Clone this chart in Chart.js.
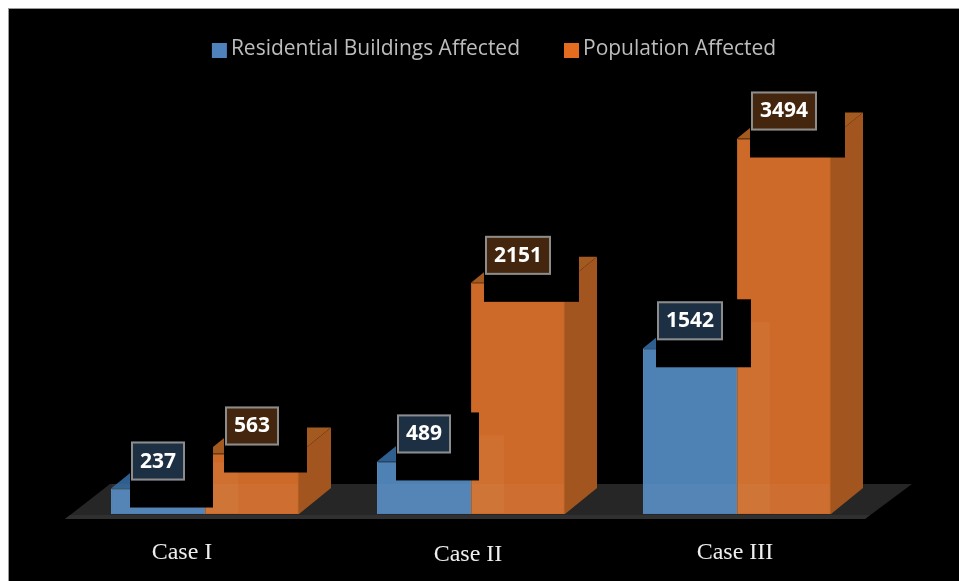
<!DOCTYPE html>
<html>
<head>
<meta charset="utf-8">
<title>Cases</title>
<script src="https://cdn.jsdelivr.net/npm/chart.js@4"></script>
<style>
  html, body { margin: 0; padding: 0; background: #fff; }
  canvas { display: block; }
</style>
</head>
<body>
<canvas id="graph" width="959" height="581"></canvas>
<script>
var categories = ['Case I', 'Case II', 'Case III'];
var buildings = [237, 489, 1542];
var population = [563, 2151, 3494];

// where the category names sit, relative to the group centre (they are hand placed in the original)
var caseOffsetX = [-23, -3, -2];
var caseBaseline = [559, 561, 559];

var depthX = 32;
var depthY = 26;
var labelFont = 'bold 21px "Open Sans"';

var faces = [
  { side: '#3f6c97', top: '#2f5f8f', box: '#1d2f42', front: '#4e81b4' },
  { side: '#a2551f', top: '#a35a20', box: '#44260f', front: '#cd6a2a' }
];

function poly(ctx, pts, color) {
  ctx.beginPath();
  ctx.moveTo(pts[0][0], pts[0][1]);
  for (var i = 1; i < pts.length; i++) ctx.lineTo(pts[i][0], pts[i][1]);
  ctx.closePath();
  ctx.fillStyle = color;
  ctx.fill();
}

const fakeDepth = {
  id: 'fakeDepth',
  afterLayout: function (chart) {
    // legend sits right of the plot centre, and higher than its padding allows
    var lg = chart.legend;
    lg.left += 23; lg.right += 23;
    lg.top -= 5; lg.bottom -= 5;
    lg.legendHitBoxes.forEach(function (b) { b.left += 23; b.top -= 5; });
  },
  beforeDraw: function (chart) {
    var ctx = chart.ctx;
    ctx.save();
    ctx.fillStyle = '#ffffff';
    ctx.fillRect(0, 0, 959, 581);
    ctx.fillStyle = '#9a9a9a';
    ctx.fillRect(8, 8, 951, 573);
    ctx.fillStyle = '#000000';
    ctx.fillRect(9, 9, 950, 572);
    ctx.restore();
  },
  beforeDatasetsDraw: function (chart) {
    var ctx = chart.ctx;
    var a = chart.chartArea;
    var y0 = chart.scales.y.getPixelForValue(0);
    ctx.save();
    // floor
    poly(ctx, [[a.left - 7, y0 + 5], [a.left + 38, y0 - 30], [a.right + 42, y0 - 30], [a.right - 5, y0 + 5]], '#262626');
    poly(ctx, [[a.left - 7, y0 + 5], [a.left - 2, y0 + 1], [a.right, y0 + 1], [a.right - 5, y0 + 5]], '#303030');
    chart.data.datasets.forEach(function (ds, d) {
      chart.getDatasetMeta(d).data.forEach(function (bar) {
        var l = bar.x - bar.width / 2, r = bar.x + bar.width / 2;
        poly(ctx, [[r, bar.y], [r + depthX, bar.y - depthY], [r + depthX, y0 - depthY], [r, y0]], faces[d].side);
        poly(ctx, [[l, bar.y], [l + depthX, bar.y - depthY], [r + depthX, bar.y - depthY], [r, bar.y]], faces[d].top);
      });
    });
    ctx.restore();
  },
  afterDatasetsDraw: function (chart) {
    var ctx = chart.ctx;
    var y0 = chart.scales.y.getPixelForValue(0);
    ctx.save();

    // see-through look of the fronts: floor line and the neighbour's side behind them
    chart.data.datasets.forEach(function (ds, d) {
      chart.getDatasetMeta(d).data.forEach(function (bar, i) {
        var l = bar.x - bar.width / 2;
        ctx.fillStyle = 'rgba(255,255,255,0.035)';
        ctx.fillRect(l + 1, y0 - depthY - 4, bar.width - 2, depthY + 3);
        if (d === 1) {
          var back = chart.getDatasetMeta(0).data[i].y - depthY;
          ctx.fillStyle = 'rgba(255,220,170,0.06)';
          ctx.fillRect(l + 1, Math.max(back, bar.y), depthX, y0 - Math.max(back, bar.y) - 1);
        }
      });
    });

    // value boxes, each with the black patch it has in the original
    ctx.font = labelFont;
    ctx.textAlign = 'center';
    ctx.textBaseline = 'middle';
    chart.data.datasets.forEach(function (ds, d) {
      chart.getDatasetMeta(d).data.forEach(function (bar, i) {
        var txt = String(ds.data[i]);
        var w = txt.length > 3 ? 66 : 54;
        var left = bar.x - w / 2;
        var top = bar.y - 47;
        ctx.fillStyle = '#000000';
        ctx.fillRect(left - 1, top - 2, w + 29, 68);
        ctx.fillStyle = faces[d].box;
        ctx.fillRect(left, top, w, 39);
        ctx.strokeStyle = '#8c8c8c';
        ctx.lineWidth = 2;
        ctx.strokeRect(left + 1, top + 1, w - 2, 37);
        ctx.fillStyle = '#ffffff';
        ctx.fillText(txt, bar.x, top + 20);
      });
    });

    // category names
    ctx.font = '24px "Liberation Serif"';
    ctx.fillStyle = '#eeeeee';
    ctx.textBaseline = 'alphabetic';
    categories.forEach(function (name, i) {
      ctx.fillText(name, chart.scales.x.getPixelForValue(i) + caseOffsetX[i], caseBaseline[i]);
    });

    // legend swatches, wider than the gap the built-in legend leaves
    chart.legend.legendHitBoxes.forEach(function (b, i) {
      ctx.fillStyle = i === 0 ? '#4f81bd' : '#e36c20';
      ctx.fillRect(b.left, b.top + 9, 15, 15);
    });
    ctx.restore();
  }
};

const config = {
  type: 'bar',
  data: {
    labels: categories,
    datasets: [
      { label: 'Residential Buildings Affected', data: buildings, backgroundColor: faces[0].front, borderColor: '#5588b8', borderWidth: 1 },
      { label: 'Population Affected', data: population, backgroundColor: faces[1].front, borderColor: '#b5601f', borderWidth: 1 }
    ]
  },
  options: {
    responsive: false,
    animation: false,
    layout: { padding: { left: 72, right: 89, top: 0, bottom: 67 } },
    datasets: { bar: { categoryPercentage: 0.7067, barPercentage: 1 } },
    plugins: {
      tooltip: { enabled: false },
      legend: {
        display: true,
        position: 'top',
        labels: {
          color: '#bdbdbd',
          font: { family: '"Open Sans"', size: 21 },
          boxWidth: 8.5,
          boxHeight: 20,
          padding: 44,
          generateLabels: function (chart) {
            return chart.data.datasets.map(function (ds, i) {
              return { text: ds.label, fillStyle: 'transparent', strokeStyle: 'transparent', lineWidth: 0, fontColor: '#bdbdbd', datasetIndex: i };
            });
          }
        }
      }
    },
    scales: {
      x: { display: false },
      y: { display: false, min: 0, max: 4085 }
    }
  },
  plugins: [fakeDepth]
};

var myChart = new Chart(document.getElementById('graph'), config);
</script>
</body>
</html>
